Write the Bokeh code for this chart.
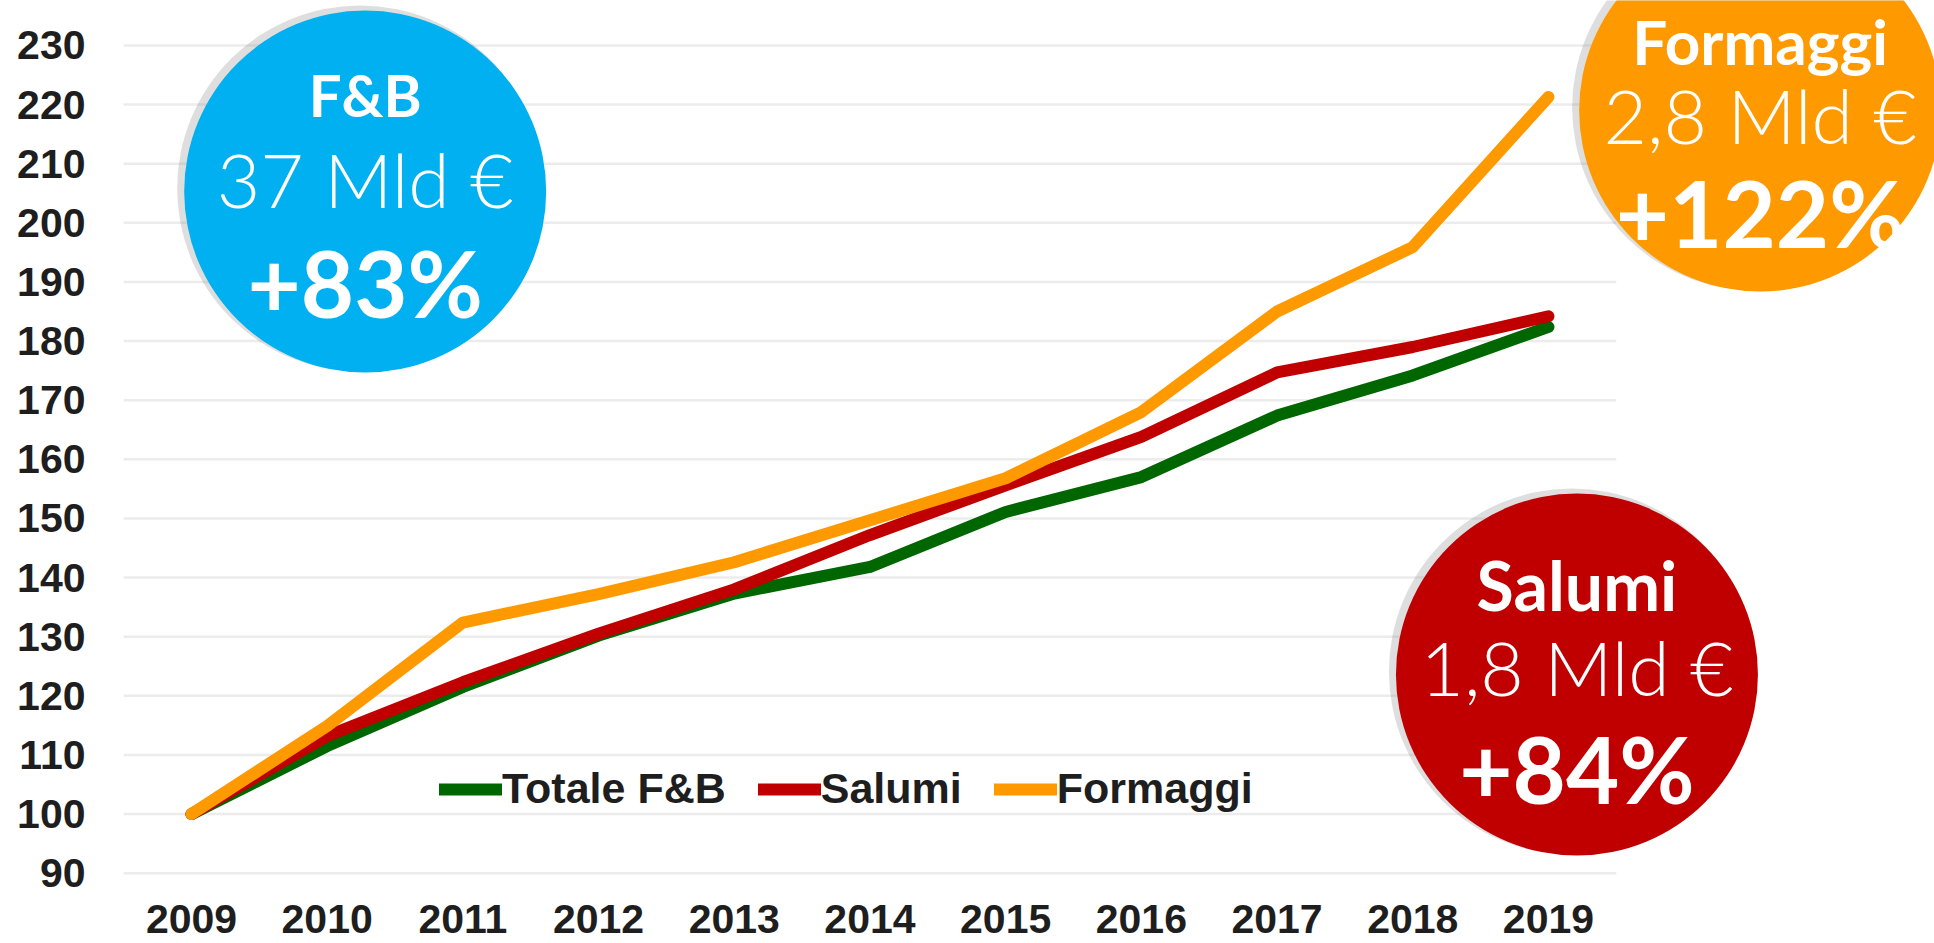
from bokeh.plotting import figure
from bokeh.models import FixedTicker, Legend, LegendItem
from bokeh.core.properties import value
from bokeh.embed import file_html
from bokeh.resources import INLINE

# ---------------- data ----------------
years = [2009, 2010, 2011, 2012, 2013, 2014, 2015, 2016, 2017, 2018, 2019]
totale_fb = [100, 111.5, 121.5, 130.2, 137.3, 141.8, 151.1, 157.0, 167.4, 174.2, 182.4]
salumi = [100, 113.2, 122.3, 130.5, 138.0, 147.2, 155.6, 163.8, 174.7, 179.0, 184.2]
formaggi = [100, 114.9, 132.4, 137.2, 142.6, 149.7, 156.8, 168.0, 185.0, 195.9, 221.3]
y_ticks = [90, 100, 110, 120, 130, 140, 150, 160, 170, 180, 190, 200, 210, 220, 230]
series_names = ["Totale F&B", "Salumi", "Formaggi"]

bubble_titles = ["F&B", "Formaggi", "Salumi"]
bubble_values = ["37 Mld €", "2,8 Mld €", "1,8 Mld €"]
bubble_growth = ["+83%", "+122%", "+84%"]

# ---------------- layout / style ----------------
W, H = 1934, 943
GREEN, RED, ORANGE, BLUE = "#006600", "#C00000", "#FF9900", "#00B0F0"
TICK_FONT = "Liberation Sans"
BUB_BOLD = "Lato"
BUB_LIGHT = "Lato Light"

# bubble centres (data coords) and radius (screen px)
bub_x = [2010.28, 2020.56, 2019.21]
bub_y = [205.3, 219.0, 123.6]
bub_r = 181
bub_colors = [BLUE, ORANGE, RED]
off_title = [-97, -70, -90]
off_value = [-13, 4, -8]
off_growth = [91, 102, 94]
title_sizes = ["58px", "62px", "68px"]

p = figure(width=W, height=H, output_backend="svg", toolbar_location=None,
           x_range=(2008.359, 2021.845), y_range=(87.92, 237.61),
           min_border_left=104, min_border_right=0, min_border_top=0,
           min_border_bottom=58)
p.outline_line_color = None
p.background_fill_color = "white"
p.xgrid.visible = False
p.ygrid.visible = False

for ax, ticks in ((p.xaxis, years), (p.yaxis, y_ticks)):
    ax.ticker = FixedTicker(ticks=ticks)
    ax.axis_line_color = None
    ax.major_tick_line_color = None
    ax.minor_tick_line_color = None
    ax.major_tick_in = 0
    ax.major_tick_out = 0
    ax.major_label_text_font = TICK_FONT
    ax.major_label_text_font_style = "bold"
    ax.major_label_text_font_size = "41px"
    ax.major_label_text_color = "#1e1e1e"
p.xaxis.major_label_standoff = 19
p.yaxis.major_label_standoff = 19

# gridlines built from tick values
p.segment(x0=[years[0] - 0.5] * len(y_ticks), x1=[years[-1] + 0.5] * len(y_ticks),
          y0=y_ticks, y1=y_ticks, line_color="#ECECEC", line_width=2.5)

# series lines
r_tot = p.line(years, totale_fb, line_color=GREEN, line_width=12,
               line_cap="round", line_join="round")
r_sal = p.line(years, salumi, line_color=RED, line_width=12,
               line_cap="round", line_join="round")
r_for = p.line(years, formaggi, line_color=ORANGE, line_width=12,
               line_cap="round", line_join="round")

# bubbles with subtle shadow
px_per_year = 135.7
px_per_unit = 5.912
sh_x = [x - 5 / px_per_year for x in bub_x]
sh_y = [y + 3 / px_per_unit for y in bub_y]
p.circle(sh_x, sh_y, radius=bub_r + 2, radius_units="screen",
         fill_color="#7a7a7a", fill_alpha=0.25, line_color=None)
p.circle(bub_x, bub_y, radius=bub_r, radius_units="screen",
         fill_color=bub_colors, line_color=None)

for i in range(3):
    p.text([bub_x[i]], [bub_y[i]], text=[bubble_titles[i]], y_offset=off_title[i],
           text_font=value(BUB_BOLD), text_font_style="bold",
           text_font_size=title_sizes[i], text_color="white",
           text_align="center", text_baseline="middle")
    p.text([bub_x[i]], [bub_y[i]], text=[bubble_values[i]], y_offset=off_value[i],
           text_font=value(BUB_LIGHT), text_font_style="normal",
           text_font_size="75px", text_color="white",
           text_align="center", text_baseline="middle")
    p.text([bub_x[i]], [bub_y[i]], text=[bubble_growth[i]], y_offset=off_growth[i],
           text_font=value(BUB_BOLD), text_font_style="bold",
           text_font_size="92px", text_color="white",
           text_align="center", text_baseline="middle")

legend = Legend(items=[LegendItem(label=series_names[0], renderers=[r_tot]),
                       LegendItem(label=series_names[1], renderers=[r_sal]),
                       LegendItem(label=series_names[2], renderers=[r_for])],
                orientation="horizontal", location=(335, 72),
                glyph_width=63, glyph_height=40, label_standoff=0, spacing=32,
                padding=0, margin=0, border_line_color=None,
                background_fill_alpha=0,
                label_text_font=TICK_FONT, label_text_font_style="bold",
                label_text_font_size="43px", label_text_color="#1e1e1e")
p.add_layout(legend)

open("out.html", "w").write(file_html(p, INLINE))
